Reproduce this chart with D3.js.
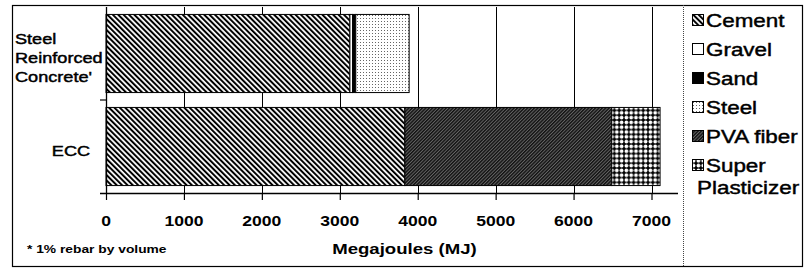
<!DOCTYPE html>
<html>
<head>
<meta charset="utf-8">
<script src="https://cdn.jsdelivr.net/npm/d3@7"></script>
<style>
  body { margin: 0; background: #fff; }
  text { font-family: "Liberation Sans", Arial, sans-serif; fill: #000; }
</style>
</head>
<body>
<svg id="chart" width="804" height="270"></svg>
<script>
// data
const categories = ["Steel Reinforced Concrete'", "ECC"];
const categoryLines = [["Steel", "Reinforced", "Concrete'"], ["ECC"]];
const materials = ["Cement", "Gravel", "Sand", "Steel", "PVA fiber", "Super Plasticizer"];
const legendLines = [["Cement"], ["Gravel"], ["Sand"], ["Steel"], ["PVA fiber"], ["Super", "Plasticizer"]];
const srcValues = [3130, 35, 40, 685, 0, 0];
const eccValues = [3835, 0, 0, 0, 2655, 620];
const xTicks = [0, 1000, 2000, 3000, 4000, 5000, 6000, 7000];
const xTitle = "Megajoules (MJ)";
const footnote = "* 1% rebar by volume";

const x = d3.scaleLinear().domain([0, 7340]).range([106, 678]);
const y = d3.scaleBand().domain(categories).range([7, 193]).paddingInner(0.16).paddingOuter(0.08);

const svg = d3.select("#chart");

// gridlines first, one path
let gd = "";
xTicks.slice(1).forEach(t => {
  const gx = Math.round(x(t)) + 0.5;
  gd += "M" + gx + ",7V193";
});
svg.append("path").attr("d", gd)
  .attr("fill", "none").attr("stroke", "#000").attr("stroke-width", 1)
  .attr("shape-rendering", "crispEdges");

const defs = svg.append("defs");

// fill patterns
let p = defs.append("pattern").attr("id", "pat0").attr("patternUnits", "userSpaceOnUse")
  .attr("width", 3.8).attr("height", 10).attr("patternTransform", "rotate(-45)");
p.append("rect").attr("width", 3.8).attr("height", 10).attr("fill", "#fff");
p.append("rect").attr("width", 2).attr("height", 10).attr("fill", "#000");

p = defs.append("pattern").attr("id", "pat1").attr("patternUnits", "userSpaceOnUse")
  .attr("width", 4).attr("height", 4);
p.append("rect").attr("width", 4).attr("height", 4).attr("fill", "#fff");

p = defs.append("pattern").attr("id", "pat2").attr("patternUnits", "userSpaceOnUse")
  .attr("width", 4).attr("height", 4);
p.append("rect").attr("width", 4).attr("height", 4).attr("fill", "#000");

p = defs.append("pattern").attr("id", "pat3").attr("patternUnits", "userSpaceOnUse")
  .attr("width", 3).attr("height", 3);
p.append("rect").attr("width", 3).attr("height", 3).attr("fill", "#fff");
p.append("rect").attr("width", 1).attr("height", 1).attr("fill", "#666");

p = defs.append("pattern").attr("id", "pat4").attr("patternUnits", "userSpaceOnUse")
  .attr("width", 2.4).attr("height", 10).attr("patternTransform", "rotate(45)");
p.append("rect").attr("width", 2.4).attr("height", 10).attr("fill", "#666");
p.append("rect").attr("width", 1.4).attr("height", 10).attr("fill", "#111");

p = defs.append("pattern").attr("id", "pat5").attr("patternUnits", "userSpaceOnUse")
  .attr("width", 4.8).attr("height", 4.8);
p.append("rect").attr("width", 4.8).attr("height", 4.8).attr("fill", "#000");
p.append("circle").attr("cx", 2.4).attr("cy", 2.4).attr("r", 1.9).attr("fill", "#fff");

const fills = materials.map((m, i) => "url(#pat" + i + ")");

// stacked bars
const table = categories.map((c, i) => {
  const row = { cat: c };
  const vals = i == 0 ? srcValues : eccValues;
  materials.forEach((m, j) => { row[m] = vals[j]; });
  return row;
});
const stack = d3.stack().keys(materials)(table);

svg.append("g").selectAll("g").data(stack).enter().append("g")
  .attr("fill", (d, i) => fills[i])
  .selectAll("rect").data(d => d.filter(s => s[1] - s[0] > 0)).enter().append("rect")
  .attr("x", d => x(d[0]))
  .attr("width", d => x(d[1]) - x(d[0]))
  .attr("y", d => y(d.data.cat))
  .attr("height", y.bandwidth())
  .attr("stroke", "#000").attr("stroke-width", 1);

// outer frame and legend divider
svg.append("rect").attr("x", 12.5).attr("y", 5.5).attr("width", 790).attr("height", 261)
  .attr("fill", "none").attr("stroke", "#000").attr("stroke-width", 1.2);
svg.append("line").attr("x1", 683.5).attr("x2", 683.5).attr("y1", 5).attr("y2", 266)
  .attr("stroke", "#444").attr("stroke-width", 1).attr("stroke-dasharray", "1,1");

// x axis
const xAxis = svg.append("g").attr("transform", "translate(0,193)")
  .call(d3.axisBottom(x).tickValues(xTicks).tickSize(7).tickFormat(""));
xAxis.select(".domain").attr("d", "M100,0.5H678").attr("stroke", "#000").attr("stroke-width", 1.3);
xAxis.selectAll(".tick line").attr("stroke", "#000").attr("stroke-width", 1.2);

svg.append("g").selectAll("text").data(xTicks).enter().append("text")
  .attr("transform", d => "translate(" + x(d) + ",226) scale(1.17,1)")
  .attr("text-anchor", "middle").attr("font-size", 15).attr("font-weight", "bold")
  .text(d => d);

svg.append("text")
  .attr("transform", "translate(" + x(3830) + ",254) scale(1.24,1)")
  .attr("text-anchor", "middle").attr("font-size", 15).attr("font-weight", "bold")
  .text(xTitle);

svg.append("text")
  .attr("transform", "translate(27,253) scale(1.38,1)")
  .attr("font-size", 10).attr("font-weight", "bold")
  .text(footnote);

// y axis
svg.append("line").attr("x1", 106.5).attr("x2", 106.5).attr("y1", 7).attr("y2", 193)
  .attr("stroke", "#000").attr("stroke-width", 1.3);
svg.append("line").attr("x1", 100).attr("x2", 106)
  .attr("y1", y.step() + 7).attr("y2", y.step() + 7)
  .attr("stroke", "#000").attr("stroke-width", 1.2);

// category labels
categories.forEach((c, i) => {
  const lines = categoryLines[i];
  const cy = y(c) + y.bandwidth() / 2;
  const multi = lines.length > 1;
  lines.forEach((t, k) => {
    const by = cy + 9.5 + (k - (lines.length - 1) / 2) * 19;
    svg.append("text")
      .attr("transform", "translate(" + (multi ? 15 : 71) + "," + by + ") scale(1.21,1)")
      .attr("text-anchor", multi ? "start" : "middle")
      .attr("font-size", 15)
      .attr("stroke", "#000").attr("stroke-width", 0.45)
      .text(t);
  });
});

// legend
const leg = svg.append("g");
materials.forEach((m, i) => {
  const base = 27 + i * 29;
  leg.append("rect").attr("x", 692.5).attr("y", base - 12.5).attr("width", 11).attr("height", 11)
    .attr("fill", fills[i]).attr("stroke", "#000").attr("stroke-width", 1);
  legendLines[i].forEach((t, k) => {
    leg.append("text")
      .attr("transform", "translate(" + (k == 0 ? 706 : 697) + "," + (base + k * 22) + ") scale(1.18,1)")
      .attr("font-size", 19)
      .attr("stroke", "#000").attr("stroke-width", 0.45)
      .text(t);
  });
});
</script>
</body>
</html>
